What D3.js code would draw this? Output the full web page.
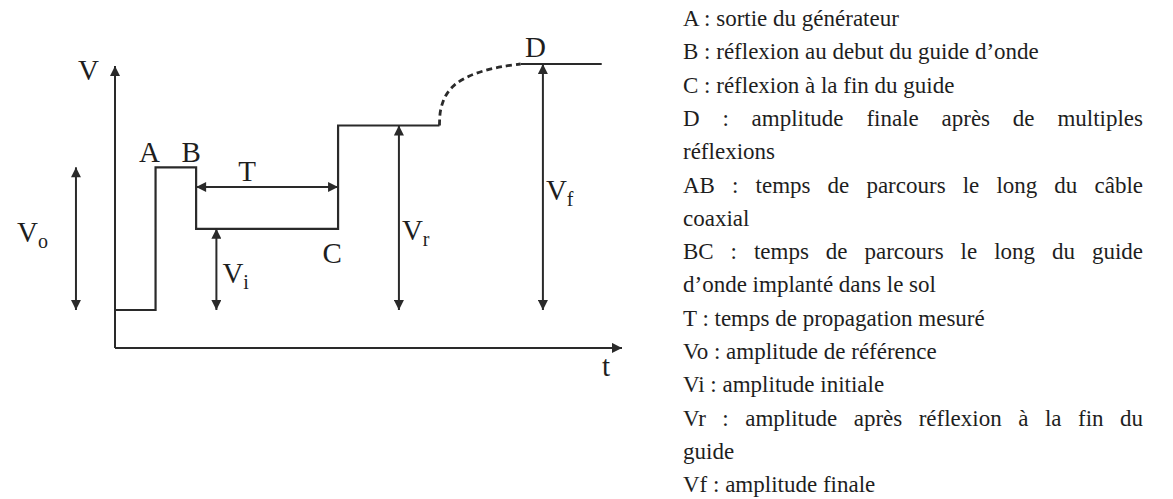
<!DOCTYPE html>
<html>
<head>
<meta charset="utf-8">
<script src="https://cdn.jsdelivr.net/npm/d3@7"></script>
<style>
  html, body { margin: 0; padding: 0; background: #ffffff; }
  svg { display: block; }
  text { font-family: "Liberation Serif", "Times New Roman", serif; fill: #1e1e1e; }
</style>
</head>
<body>
<svg id="chart" width="1173" height="499"></svg>
<script>
// ---- data (time units / voltage units) ----
const signalT = [0, 4, 4, 8, 8, 22, 22, 32];
const signalV = [0, 0, 58, 58, 33, 33, 75, 75];
const curveT = [32, 32.1, 32.6, 33.5, 34.9, 36.6, 38.3, 40];
const curveV = [75, 81, 87, 91.5, 95, 97.5, 99, 100];
const finalT = [40, 48];
const finalV = [100, 100];

const arrowNames = ["Vo", "Vi", "Vr", "Vf"];
const arrowT = [-3.85, 10, 28, 42.2];
const arrowTop = [58, 33, 75, 100];
const arrowBottom = [0, 0, 0, 0];

const periodName = "T";
const periodStart = 8;
const periodEnd = 22;
const periodLevel = 50;

const axisXDomain = [0, 50];
const axisYDomain = [-15.4, 99.2];

const pointLabels = ["A", "B", "C", "D"];

const legendLines = [
  "A : sortie du générateur",
  "B : réflexion au debut du guide d’onde",
  "C : réflexion à la fin du guide",
  "D : amplitude finale après de multiples",
  "réflexions",
  "AB : temps de parcours le long du câble",
  "coaxial",
  "BC : temps de parcours le long du guide",
  "d’onde implanté dans le sol",
  "T : temps de propagation mesuré",
  "Vo : amplitude de référence",
  "Vi : amplitude initiale",
  "Vr : amplitude après réflexion à la fin du",
  "guide",
  "Vf : amplitude finale"
];
const legendJustified = [false, false, false, true, false, true, false, true, false, false, false, false, true, false, false];

// ---- drawing ----
const svg = d3.select("#chart");
const ink = "#2a2a2a";

const x = d3.scaleLinear().domain([0, 50]).range([115, 622]);
const y = d3.scaleLinear().domain([0, 100]).range([310, 64]);

const defs = svg.append("defs");
function marker(id, orient) {
  defs.append("marker")
    .attr("id", id)
    .attr("viewBox", "0 0 10 10")
    .attr("refX", 10).attr("refY", 5)
    .attr("markerWidth", 11).attr("markerHeight", 10)
    .attr("markerUnits", "userSpaceOnUse")
    .attr("orient", orient)
    .append("path")
    .attr("d", "M0,0 L10,5 L0,10 Z")
    .attr("fill", ink);
}
marker("arrowEnd", "auto");
marker("arrowStart", "auto-start-reverse");

const g = svg.append("g");

// axes
const x0 = x(axisXDomain[0]);
const yAxisPix = y(axisYDomain[0]);
g.append("line")
  .attr("x1", x0).attr("y1", yAxisPix)
  .attr("x2", x0).attr("y2", y(axisYDomain[1]))
  .attr("stroke", ink).attr("stroke-width", 2)
  .attr("marker-end", "url(#arrowEnd)");
g.append("line")
  .attr("x1", x0).attr("y1", yAxisPix)
  .attr("x2", x(axisXDomain[1])).attr("y2", yAxisPix)
  .attr("stroke", ink).attr("stroke-width", 2)
  .attr("marker-end", "url(#arrowEnd)");

// signal
const line = d3.line().x(d => x(d[0])).y(d => y(d[1]));
g.append("path")
  .attr("d", line(d3.zip(signalT, signalV)))
  .attr("fill", "none").attr("stroke", ink).attr("stroke-width", 2.2)
  .attr("stroke-linejoin", "miter");
g.append("path")
  .attr("d", d3.line().x(d => x(d[0])).y(d => y(d[1])).curve(d3.curveCatmullRom)(d3.zip(curveT, curveV)))
  .attr("fill", "none").attr("stroke", ink).attr("stroke-width", 2.8)
  .attr("stroke-dasharray", "6,4");
g.append("path")
  .attr("d", line(d3.zip(finalT, finalV)))
  .attr("fill", "none").attr("stroke", ink).attr("stroke-width", 2.2);

// double arrows
arrowNames.forEach((name, i) => {
  g.append("line")
    .attr("x1", x(arrowT[i])).attr("y1", y(arrowTop[i]))
    .attr("x2", x(arrowT[i])).attr("y2", y(arrowBottom[i]))
    .attr("stroke", ink).attr("stroke-width", 2)
    .attr("marker-start", "url(#arrowStart)")
    .attr("marker-end", "url(#arrowEnd)");
});
g.append("line")
  .attr("x1", x(periodStart)).attr("y1", y(periodLevel))
  .attr("x2", x(periodEnd)).attr("y2", y(periodLevel))
  .attr("stroke", ink).attr("stroke-width", 2)
  .attr("marker-start", "url(#arrowStart)")
  .attr("marker-end", "url(#arrowEnd)");

// labels
const big = 29, sub = 20;
function label(txt, px, py, anchor) {
  return g.append("text").attr("x", px).attr("y", py)
    .attr("text-anchor", anchor || "middle")
    .style("font-size", big + "px").text(txt);
}
function subLabel(main, s, px, py) {
  const t = g.append("text").attr("x", px).attr("y", py).style("font-size", big + "px");
  t.append("tspan").text(main);
  t.append("tspan").attr("dy", 6).style("font-size", sub + "px").text(s);
}
label("V", x0 - 16, y(axisYDomain[1]) + 14, "end");
label("t", x(axisXDomain[1]) - 16, yAxisPix + 28, "middle");
label(pointLabels[0], x(signalT[1]) - 6, y(signalV[2]) - 5);
label(pointLabels[1], x(signalT[3]) - 5, y(signalV[3]) - 5);
label(pointLabels[2], x(signalT[5]) - 6, y(signalV[5]) + 34);
label(pointLabels[3], x(finalT[0]) + 15, y(finalV[0]) - 7);
label(periodName, (x(periodStart) + x(periodEnd)) / 2 - 20, y(periodLevel) - 6);

subLabel("V", "o", x(arrowT[0]) - 59, y(arrowTop[0]) + 75);
subLabel("V", "i", x(arrowT[1]) + 6, y(arrowTop[1]) + 54);
subLabel("V", "r", x(arrowT[2]) + 3, y(arrowTop[2]) + 114);
subLabel("V", "f", x(arrowT[3]) + 3, y(arrowTop[3]) + 136);

// legend
const legX = 683, legRight = 1143, legY0 = 26, legStep = 33.3, legSize = 23;
legendLines.forEach((txt, i) => {
  const t = svg.append("text")
    .attr("x", legX).attr("y", legY0 + i * legStep)
    .style("font-size", legSize + "px")
    .text(txt);
  if (legendJustified[i]) {
    const natural = t.node().getComputedTextLength();
    const spaces = (txt.match(/ /g) || []).length;
    const ws = (legRight - legX - natural) / spaces;
    t.style("word-spacing", ws + "px");
  }
});
</script>
</body>
</html>
